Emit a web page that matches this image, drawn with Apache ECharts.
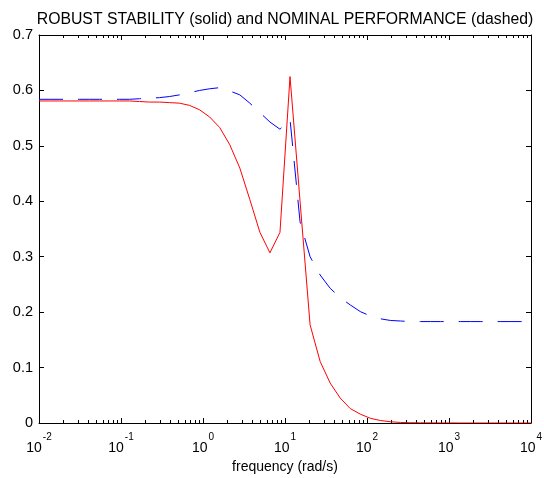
<!DOCTYPE html>
<html>
<head>
<meta charset="utf-8">
<script src="https://cdn.jsdelivr.net/npm/echarts@6/dist/echarts.min.js"></script>
<style>
html,body{margin:0;padding:0;background:#fff;}
#chart{width:544px;height:478px;}
</style>
</head>
<body>
<div id="chart"></div>
<script>
// frequency grid (rad/s), read from the plotted vertices
var frequency = [0.01, 0.01326, 0.01758, 0.0233, 0.03089, 0.04095, 0.05429, 0.07197, 0.09541, 0.1265,
  0.1677, 0.2223, 0.2947, 0.3907, 0.5179, 0.6866, 0.9103, 1.2068, 1.5999, 2.121,
  2.8118, 3.7276, 4.9417, 6.5513, 8.6851, 11.514, 15.264, 20.236, 26.827, 35.565,
  47.149, 62.506, 82.864, 109.85, 145.63, 193.07, 255.95, 339.32, 449.84, 596.36,
  790.6, 1048.1, 1389.5, 1842.1, 2442.1, 3237.5, 4291.9, 5689.9, 7543.1, 10000];

// robust stability (solid, red)
var robustStability = [0.581, 0.581, 0.581, 0.581, 0.581, 0.581, 0.581, 0.581, 0.581, 0.581,
  0.580, 0.579, 0.579, 0.578, 0.577, 0.573, 0.565, 0.552, 0.533, 0.502,
  0.460, 0.403, 0.344, 0.307, 0.344, 0.625, 0.400, 0.177, 0.111, 0.072,
  0.045, 0.026, 0.016, 0.0085, 0.0045, 0.0022, 0.001, 0.0005, 0.0003, 0.0002,
  0.0001, 0.0001, 0, 0, 0, 0, 0, 0, 0, 0];

// nominal performance (dashed, blue)
var nominalPerformance = [0.584, 0.584, 0.584, 0.584, 0.584, 0.584, 0.584, 0.584, 0.584, 0.584,
  0.585, 0.586, 0.587, 0.589, 0.592, 0.596, 0.600, 0.603, 0.605, 0.599,
  0.592, 0.577, 0.560, 0.543, 0.530, 0.548, 0.363, 0.300, 0.267, 0.243,
  0.226, 0.213, 0.201, 0.193, 0.188, 0.185, 0.184, 0.183, 0.183, 0.183,
  0.183, 0.183, 0.183, 0.183, 0.183, 0.183, 0.183, 0.183, 0.183, 0.183];

var xMajorTicks = [0.01, 0.1, 1, 10, 100, 1000, 10000];
var yTicks = [0, 0.1, 0.2, 0.3, 0.4, 0.5, 0.6, 0.7];

var titleText = 'ROBUST STABILITY (solid) and NOMINAL PERFORMANCE (dashed)';
var xName = 'frequency (rad/s)';

var xMinorTicks = [];
xMajorTicks.slice(0, -1).forEach(function (d) {
  for (var m = 2; m <= 9; m++) xMinorTicks.push(+(d * m).toPrecision(3));
});

var font = 'Liberation Sans, Arial, sans-serif';
var black = '#000';

function logAxis(pos, major, showLabels) {
  return {
    type: 'log', logBase: 10, min: 0.01, max: 10000, position: pos,
    axisLine: { show: major, onZero: false, lineStyle: { color: black, width: 1 } },
    splitLine: { show: false },
    minorTick: { show: false },
    axisTick: { show: true, inside: true, length: major ? 5 : 3,
      lineStyle: { color: black, width: 1 },
      customValues: major ? xMajorTicks : xMinorTicks },
    axisLabel: showLabels ? {
      show: true, customValues: xMajorTicks, margin: 6,
      formatter: function (v) {
        var e = Math.round(Math.log10(v));
        return '{b|10}{e|' + e + '}';
      },
      rich: {
        b: { fontSize: 14, fontFamily: font, color: black, lineHeight: 26, verticalAlign: 'bottom' },
        e: { fontSize: 10, fontFamily: font, color: black, lineHeight: 26, verticalAlign: 'top', padding: [3,0,0,1] }
      }
    } : { show: false },
    name: showLabels ? xName : '',
    nameLocation: 'middle', nameGap: 36,
    nameTextStyle: { fontSize: 14, fontFamily: font, color: black }
  };
}

var chart = echarts.init(document.getElementById('chart'), null, { renderer: 'canvas' });
chart.setOption({
  backgroundColor: '#fff',
  animation: false,
  title: {
    text: titleText, left: 280, textAlign: 'center', top: 7,
    textStyle: { fontSize: 15.8, fontWeight: 'normal', fontFamily: font, color: black }
  },
  grid: { left: 39, right: 13, top: 35, bottom: 55, containLabel: false, outerBoundsMode: 'none' },
  xAxis: [
    logAxis('bottom', true, true),
    logAxis('bottom', false, false),
    logAxis('top', true, false),
    logAxis('top', false, false)
  ],
  yAxis: [
    {
      type: 'value', min: 0, max: 0.7, interval: 0.1, position: 'left',
      axisLine: { show: true, onZero: false, lineStyle: { color: black, width: 1 } },
      axisTick: { show: true, inside: true, length: 5, lineStyle: { color: black } },
      splitLine: { show: false },
      axisLabel: { show: true, margin: 6, fontSize: 14.5, fontFamily: font, color: black,
        customValues: yTicks,
        formatter: function (v) { return String(+v.toFixed(1)); } }
    },
    {
      type: 'value', min: 0, max: 0.7, interval: 0.1, position: 'right',
      axisLine: { show: true, onZero: false, lineStyle: { color: black, width: 1 } },
      axisTick: { show: true, inside: true, length: 5, lineStyle: { color: black } },
      splitLine: { show: false },
      axisLabel: { show: false }
    }
  ],
  series: [
    {
      type: 'line', name: 'robust stability', xAxisIndex: 0, yAxisIndex: 0,
      data: frequency.map(function (f, i) { return [f, robustStability[i]]; }),
      showSymbol: false, symbol: 'none', clip: true, z: 3,
      lineStyle: { color: '#ff0000', width: 1, type: 'solid' }
    },
    {
      type: 'line', name: 'nominal performance', xAxisIndex: 0, yAxisIndex: 0,
      data: frequency.map(function (f, i) { return [f, nominalPerformance[i]]; }),
      showSymbol: false, symbol: 'none', clip: true, z: 2,
      lineStyle: { color: '#0000ff', width: 1, type: [24, 15] }
    }
  ]
});
</script>
</body>
</html>
